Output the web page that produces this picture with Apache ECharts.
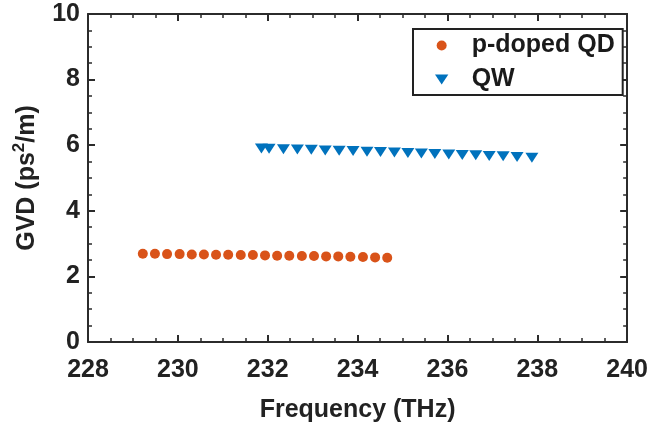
<!DOCTYPE html>
<html>
<head>
<meta charset="utf-8">
<script src="https://cdn.jsdelivr.net/npm/echarts@6/dist/echarts.min.js"></script>
<style>
  html, body { margin: 0; padding: 0; background: #fff; }
  #chart { width: 651px; height: 431px; }
</style>
</head>
<body>
<div id="chart"></div>
<script>
// Frequency (THz) and GVD (ps^2/m) samples for each device
const qdFreq = [229.22, 229.49, 229.76, 230.04, 230.31, 230.58, 230.85, 231.12, 231.40, 231.67,
                231.94, 232.21, 232.48, 232.76, 233.03, 233.30, 233.57, 233.84, 234.12, 234.39, 234.66];
const qdGvd  = [2.69, 2.69, 2.68, 2.68, 2.67, 2.67, 2.66, 2.66, 2.65, 2.65,
                2.64, 2.63, 2.63, 2.62, 2.62, 2.61, 2.61, 2.60, 2.59, 2.58, 2.57];

const qwFreq = [231.86, 232.03, 232.35, 232.66, 232.97, 233.28, 233.59, 233.90, 234.21, 234.51,
                234.82, 235.12, 235.42, 235.72, 236.03, 236.33, 236.63, 236.93, 237.24, 237.55, 237.88];
const qwGvd  = [5.90, 5.89, 5.88, 5.87, 5.86, 5.84, 5.83, 5.82, 5.80, 5.79,
                5.78, 5.76, 5.75, 5.73, 5.72, 5.70, 5.69, 5.67, 5.66, 5.64, 5.62];

const seriesNames = ['p-doped QD', 'QW'];
const xRange = { min: 228, max: 240, step: 2 };
const yRange = { min: 0, max: 10, step: 2 };

const FONT = '"Liberation Sans", Arial, Helvetica, sans-serif';
const AXIS_COLOR = '#2b2b2b';
const TEXT_COLOR = '#222';
const DOWN_TRIANGLE = 'path://M0,0L12,0L6,9Z';

function pairs(xs, ys) { return xs.map((x, i) => [x, ys[i]]); }

function axisCommon() {
  return {
    axisLine: { show: true, onZero: false, lineStyle: { color: AXIS_COLOR, width: 2 } },
    axisTick: { show: true, inside: true, length: 7, lineStyle: { color: AXIS_COLOR, width: 2 } },
    minorTick: { show: true, splitNumber: 4, length: 4, lineStyle: { color: AXIS_COLOR, width: 1.5 } },
    splitLine: { show: false },
    axisLabel: { show: false }
  };
}

const tickLabel = { fontFamily: FONT, fontWeight: 'bold', fontSize: 25, color: TEXT_COLOR };
const titleText = { fontFamily: FONT, fontWeight: 'bold', fontSize: 25, color: TEXT_COLOR };

const chart = echarts.init(document.getElementById('chart'), null, { renderer: 'canvas' });

chart.setOption({
  backgroundColor: '#fff',
  animation: false,
  grid: { left: 88, right: 23, top: 14, bottom: 89, containLabel: false },
  legend: {
    orient: 'vertical',
    left: 413,
    top: 29,
    padding: [4, 8, 3, 22],
    backgroundColor: '#fff',
    borderColor: '#222',
    borderWidth: 2,
    borderRadius: 0,
    itemGap: 9,
    itemWidth: 14,
    itemHeight: 10,
    textStyle: { fontFamily: FONT, fontWeight: 'bold', fontSize: 25, color: '#1a1a1a', lineHeight: 24, padding: [0, 0, 0, 18] },
    data: [
      { name: seriesNames[0], icon: 'circle' },
      { name: seriesNames[1], icon: DOWN_TRIANGLE }
    ]
  },
  xAxis: [
    Object.assign(axisCommon(), {
      type: 'value', position: 'bottom',
      min: xRange.min, max: xRange.max, interval: xRange.step,
      axisLabel: Object.assign({ show: true, margin: 16, lineHeight: 24 }, tickLabel),
      name: 'Frequency (THz)', nameLocation: 'middle', nameGap: 56,
      nameTextStyle: titleText
    }),
    Object.assign(axisCommon(), {
      type: 'value', position: 'top',
      min: xRange.min, max: xRange.max, interval: xRange.step
    })
  ],
  yAxis: [
    Object.assign(axisCommon(), {
      type: 'value', position: 'left',
      min: yRange.min, max: yRange.max, interval: yRange.step,
      axisLabel: Object.assign({ show: true, margin: 8 }, tickLabel),
      name: 'GVD (ps{sup|2}/m)', nameLocation: 'middle', nameRotate: 90, nameGap: 44,
      nameTextStyle: Object.assign({
        rich: { sup: { fontFamily: FONT, fontWeight: 'bold', fontSize: 17, color: TEXT_COLOR, verticalAlign: 'bottom', padding: [0, 0, 16, 0] } }
      }, titleText)
    }),
    Object.assign(axisCommon(), {
      type: 'value', position: 'right',
      min: yRange.min, max: yRange.max, interval: yRange.step
    })
  ],
  series: [
    {
      name: seriesNames[0], type: 'scatter',
      xAxisIndex: 0, yAxisIndex: 0,
      symbol: 'circle', symbolSize: 10,
      itemStyle: { color: '#D95319', opacity: 1 },
      data: pairs(qdFreq, qdGvd)
    },
    {
      name: seriesNames[1], type: 'scatter',
      xAxisIndex: 0, yAxisIndex: 0,
      symbol: DOWN_TRIANGLE, symbolSize: [13, 10],
      itemStyle: { color: '#0072BD', opacity: 1 },
      data: pairs(qwFreq, qwGvd)
    }
  ]
});
</script>
</body>
</html>
